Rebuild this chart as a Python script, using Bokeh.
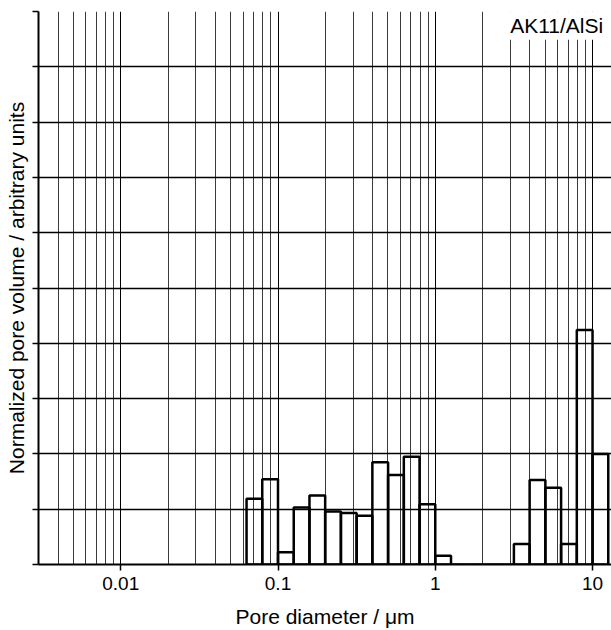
from bokeh.plotting import figure
from bokeh.models import Range1d, FixedTicker, Label
from bokeh.embed import file_html
from bokeh.resources import INLINE

# ---- data ----
bin_edges = [0.0631, 0.0794, 0.1, 0.1259, 0.1585, 0.1995, 0.2512, 0.3162,
             0.3981, 0.5012, 0.6310, 0.7943, 1.0, 1.259, 1.585, 1.995,
             2.512, 3.162, 3.981, 5.012, 6.310, 7.943, 10.0, 12.59]
pore_volume = [1.19, 1.54, 0.22, 1.03, 1.25, 0.96, 0.93, 0.88, 1.85, 1.62,
               1.95, 1.09, 0.16, 0.0, 0.0, 0.0, 0.0, 0.37, 1.53, 1.39,
               0.37, 4.24, 2.00]
x_ticks = [0.01, 0.1, 1, 10]
x_tick_labels = ["0.01", "0.1", "1", "10"]
y_ticks = [0, 1, 2, 3, 4, 5, 6, 7, 8, 9, 10]
sample_label = "AK11/AlSi"
x_title = "Pore diameter / μm"
y_title = "Normalized pore volume / arbitrary units"
x_lo, x_hi = 0.003, 13.2
y_lo, y_hi = 0, 10

FONT = "Liberation Sans"

p = figure(width=611, height=630, x_axis_type="log",
           x_range=Range1d(x_lo, x_hi), y_range=Range1d(y_lo, y_hi),
           output_backend="svg", toolbar_location=None,
           min_border_left=38, min_border_right=0, min_border_top=11,
           min_border_bottom=65)
p.outline_line_color = None
p.background_fill_color = "white"

# minor grid positions 2..9 in each decade
decades = [0.001, 0.01, 0.1, 1, 10]
minor = [d * m for d in decades for m in range(2, 10) if x_lo < d * m < x_hi]

xt = FixedTicker(ticks=x_ticks, minor_ticks=minor)
p.xaxis.ticker = xt
p.xgrid.ticker = xt
p.xaxis.major_label_overrides = {t: s for t, s in zip(x_ticks, x_tick_labels)}
p.xgrid.grid_line_color = "black"
p.xgrid.grid_line_width = 1
p.xgrid.minor_grid_line_color = "#3a3a3a"
p.xgrid.minor_grid_line_width = 1

yt = FixedTicker(ticks=y_ticks, minor_ticks=[])
p.yaxis.ticker = yt
p.ygrid.ticker = yt
p.ygrid.grid_line_color = "black"
p.ygrid.grid_line_width = 1.5
p.yaxis.major_label_overrides = {t: "" for t in y_ticks}
p.yaxis.major_label_standoff = 0

for ax in (p.xaxis, p.yaxis):
    ax.axis_line_color = "black"
    ax.axis_line_width = 2
    ax.major_tick_line_color = "black"
    ax.major_tick_line_width = 1.5
    ax.major_tick_out = 6
    ax.major_tick_in = 0
    ax.minor_tick_line_color = None
    ax.major_label_text_font = FONT
    ax.major_label_text_font_size = "19px"
    ax.major_label_text_color = "black"
    ax.axis_label_text_font = FONT
    ax.axis_label_text_font_size = "21px"
    ax.axis_label_text_font_style = "normal"
    ax.axis_label_text_color = "black"

p.xaxis.axis_label = x_title
p.xaxis.major_label_standoff = 6
p.xaxis.axis_label_standoff = 12
p.yaxis.axis_label = y_title
p.yaxis.axis_label_standoff = 5

p.quad(left=bin_edges[:-1], right=bin_edges[1:], bottom=0, top=pore_volume,
       fill_color=None, line_color="black", line_width=2.5)

p.add_layout(Label(x=12.2, y=9.75, text=sample_label, text_align="right",
                   text_baseline="middle", text_font=FONT,
                   text_font_size="21px", text_color="black",
                   background_fill_color="white", padding=3))

open("out.html", "w").write(file_html(p, INLINE))
